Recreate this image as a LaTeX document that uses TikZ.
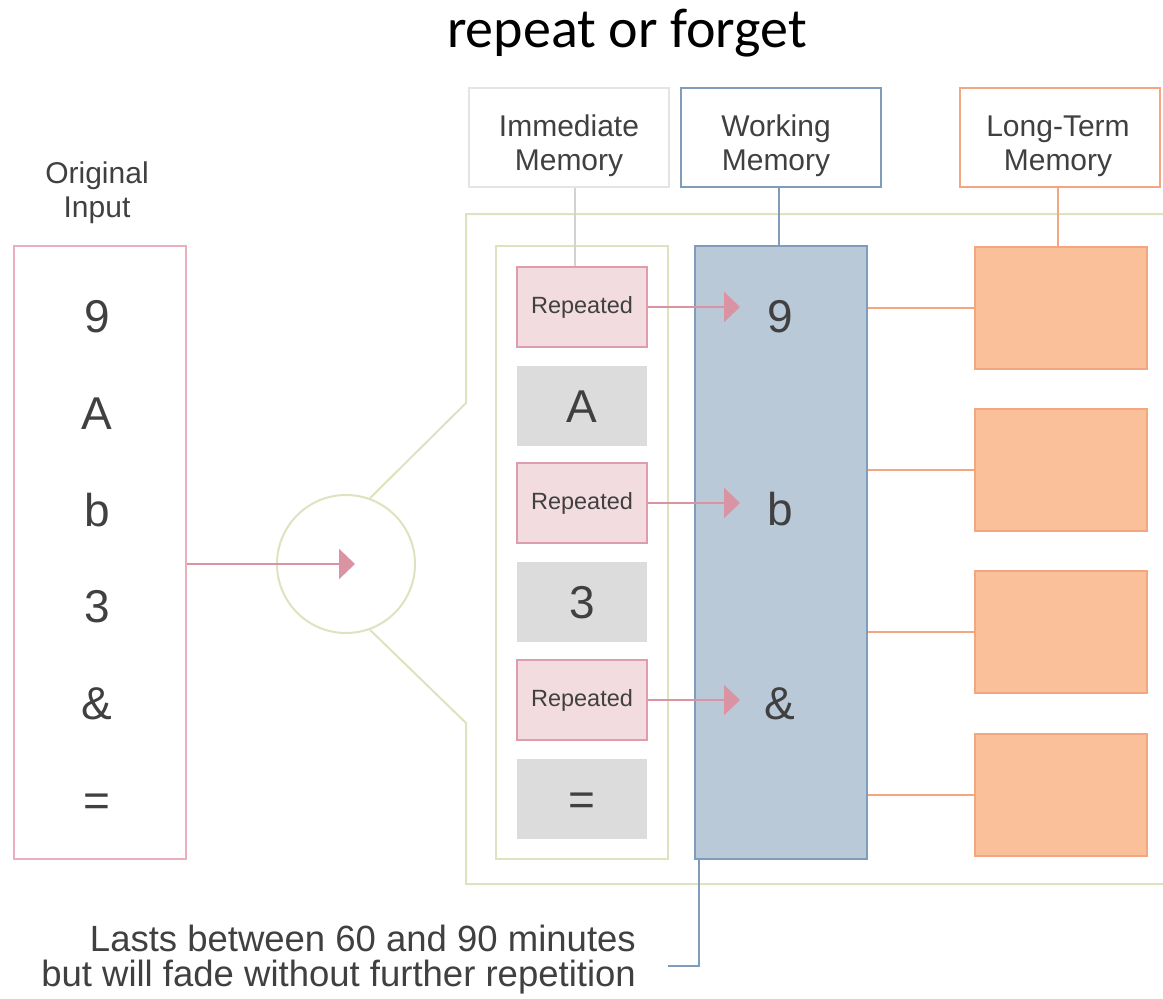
\documentclass[tikz,border=0pt]{standalone}
\usepackage{fontspec}
\setmainfont{Liberation Sans}
\newfontfamily\labfont{Liberation Sans}
\newfontfamily\titlefont{Carlito}
\usetikzlibrary{arrows.meta}

\definecolor{inkgray}{HTML}{404040}
\definecolor{origline}{HTML}{E9AFBD}
\definecolor{repline}{HTML}{DE9DAC}
\definecolor{repfill}{HTML}{F2DCE0}
\definecolor{arrowpink}{HTML}{DA93A2}
\definecolor{frameline}{HTML}{DCE3BE}
\definecolor{grayfill}{HTML}{DCDCDC}
\definecolor{wmfill}{HTML}{B9C9D8}
\definecolor{wmline}{HTML}{7F9DBB}
\definecolor{ltfill}{HTML}{F9C09A}
\definecolor{ltline}{HTML}{F4A680}
\definecolor{immline}{HTML}{E4E4E4}
\definecolor{immlink}{HTML}{D2D2D2}

\begin{document}
\begin{tikzpicture}[x=1pt, y=-1pt,
  tallbox/.style={draw, line width=2pt, rectangle, inner sep=0pt,
    minimum width=172pt, minimum height=613pt},
  glyph/.style={font=\fontsize{46}{46}\selectfont, text=inkgray,
    text height=33pt, text depth=0pt, inner sep=0pt},
  itembox/.style={rectangle, minimum width=130pt, minimum height=80pt, inner sep=0pt},
  repbox/.style={itembox, draw=repline, fill=repfill, line width=2pt,
    font=\labfont\fontsize{23.5}{23.5}\selectfont, text=inkgray},
  graybox/.style={itembox, fill=grayfill, glyph},
  ltbox/.style={rectangle, draw=ltline, fill=ltfill, line width=2pt,
    minimum width=172pt, minimum height=122pt, inner sep=0pt},
  header/.style={rectangle, line width=2pt, minimum width=200pt, minimum height=99pt,
    inner sep=0pt},
  sidelabel/.style={align=center, text=inkgray, inner sep=0pt,
    font=\labfont\fontsize{30}{34}\selectfont},
  pinkarrow/.style={draw=arrowpink, line width=2.5pt,
    -{Triangle[length=16pt,width=30pt]}},
  frame/.style={draw=frameline, line width=2pt},
  feed/.style={draw=ltline, line width=2pt}
]
\useasboundingbox (0,0) rectangle (1163,999);

% title
\node[font=\titlefont\fontsize{56}{56}\selectfont, text=black, inner sep=0pt]
  (title) at (627,33) {repeat or forget};

% original input column
\node[sidelabel] (origlabel) at (97,193) {Original\\Input};
\node[tallbox, draw=origline] (orig) at (100,552.5) {};
\foreach \s [count=\i from 0] in {9,A,b,3,\&,=}
  \node[glyph] (o\i) at (97,{316+96.8*\i}) {\s};

% magnifier circle and the frame opening out of it
\node[circle, draw=frameline, line width=2pt, minimum size=138pt, inner sep=0pt]
  (circ) at (346,564) {};
\coordinate (fa) at (466,403);
\coordinate (fb) at (466,214);
\coordinate (fc) at (1163,214);
\coordinate (fd) at (466,723);
\coordinate (fe) at (466,884);
\coordinate (ff) at (1163,884);
\draw[frame] (circ.70) -- (fa) -- (fb) -- (fc);
\draw[frame] (circ.-70) -- (fd) -- (fe) -- (ff);
\draw[pinkarrow] (orig.east |- circ.center) -- ([xshift=9pt]circ.center);

% immediate memory column
\node[rectangle, draw=frameline, line width=2pt, minimum width=172pt,
  minimum height=613pt, inner sep=0pt] (imm) at (582,552.5) {};
\node[repbox]   (r0) at (582,307)   {Repeated};
\node[graybox]  (r1) at (582,405.5) {A};
\node[repbox]   (r2) at (582,503)   {Repeated};
\node[graybox]  (r3) at (582,601.5) {3};
\node[repbox]   (r4) at (582,700)   {Repeated};
\node[graybox]  (r5) at (582,798.5) {=};

% working memory column
\node[tallbox, draw=wmline, fill=wmfill] (wm) at (781,552.5) {};
\node[glyph] (w0) at (780,316) {9};
\node[glyph] (w2) at (780,509) {b};
\node[glyph] (w4) at (780,703) {\&};
\coordinate (tipx) at (740,0);
\foreach \i in {0,2,4}
  \draw[pinkarrow] (r\i.east) -- (r\i.east -| tipx);

% long-term memory blocks
\foreach \y [count=\i] in {307.5,470,632,795} {
  \node[ltbox] (lt\i) at (1061,\y) {};
  \draw[feed] (wm.east |- lt\i.west) -- (lt\i.west);
}

% headers and their links
\node[header, draw=immline] (himm) at (569,137.5) {};
\node[header, draw=wmline] (hwm) at (780.5,137.5) {};
\node[header, draw=ltline] (hlt) at (1059.5,137.5) {};
\node[sidelabel] (timm) at (569,146) {Immediate\\Memory};
\node[sidelabel] (twm) at (776,146) {Working\\Memory};
\node[sidelabel] (tlt) at (1058,146) {Long-Term\\Memory};
\draw[immlink, line width=2pt] ([xshift=6pt]himm.south) -- ([xshift=6pt]himm.south |- r0.north);
\draw[wmline, line width=2pt] ([xshift=-2pt]hwm.south) -- ([xshift=-2pt]hwm.south |- wm.north);
\draw[ltline, line width=2pt] ([xshift=-2pt]hlt.south) -- ([xshift=-2pt]hlt.south |- lt1.north);

% note on how long working memory lasts
\node[align=right, anchor=east, text=inkgray, inner sep=0pt,
  font=\labfont\fontsize{36.5}{35}\selectfont] (note) at (636,960)
  {Lasts between 60 and 90 minutes\\but will fade without further repetition};
\coordinate (noteend) at (668,966);
\draw[wmline, line width=2pt] ([xshift=5pt]wm.south west) |- (noteend);
\end{tikzpicture}
\end{document}
